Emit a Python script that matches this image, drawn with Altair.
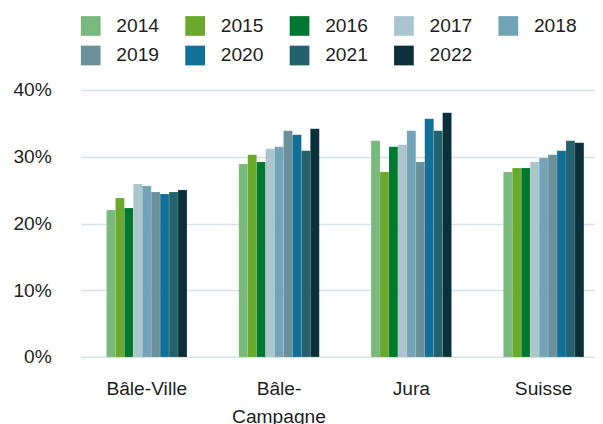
import altair as alt
import pandas as pd

regions = ["Bâle-Ville", "Bâle-Campagne", "Jura", "Suisse"]
years = ["2014", "2015", "2016", "2017", "2018", "2019", "2020", "2021", "2022"]

bale_ville = [22.0, 23.8, 22.3, 25.9, 25.6, 24.7, 24.4, 24.7, 25.0]
bale_campagne = [28.9, 30.3, 29.2, 31.2, 31.5, 33.9, 33.3, 30.9, 34.2]
jura = [32.4, 27.7, 31.5, 31.8, 33.9, 29.2, 35.7, 33.9, 36.6]
suisse = [27.7, 28.3, 28.3, 29.2, 29.8, 30.3, 30.9, 32.4, 32.1]

colors = ["#78b97d", "#6aa92c", "#00782f", "#abc5cd", "#73a3b6",
          "#6a9099", "#116f99", "#23626d", "#0a303a"]

series = [bale_ville, bale_campagne, jura, suisse]
rows = []
for reg, vals in zip(regions, series):
    for yr, v in zip(years, vals):
        rows.append({"region": reg, "year": yr, "value": v / 100})
df = pd.DataFrame(rows)

grid_color = "#d3e1e8"
text_color = "#1e1e1e"
font = "Liberation Sans"

chart = alt.Chart(df).mark_bar(stroke="white", strokeWidth=0.3, strokeOpacity=0.4).encode(
    x=alt.X("region:N", sort=regions, title=None,
            scale=alt.Scale(paddingInner=0.3917, paddingOuter=0.1389, align=0.697),
            axis=alt.Axis(labelAngle=0, labelFontSize=19.5, labelFont=font, labelColor=text_color,
                          ticks=False, labelPadding=23, domainColor=grid_color, domainWidth=1.5,
                          labelLineHeight=29, grid=False,
                          labelExpr="datum.label == 'Bâle-Campagne' ? ['Bâle-', 'Campagne'] : datum.label")),
    xOffset=alt.XOffset("year:N", sort=years, scale=alt.Scale(paddingInner=0, paddingOuter=0)),
    y=alt.Y("value:Q", title=None,
            scale=alt.Scale(domain=[0, 0.4], nice=False),
            axis=alt.Axis(format=".0%", values=[0, 0.1, 0.2, 0.3, 0.4], domain=False, ticks=False,
                          labelPadding=30, labelFontSize=19.5, labelFont=font, labelColor=text_color,
                          gridColor=grid_color, gridWidth=1.5)),
    color=alt.Color("year:N", sort=years,
                    scale=alt.Scale(domain=years, range=colors),
                    legend=alt.Legend(title=None, orient="none", legendX=0, legendY=-75,
                                      direction="horizontal",
                                      columns=5, symbolType="square", symbolSize=400,
                                      symbolStrokeWidth=0, labelFontSize=19.5, labelFont=font,
                                      labelColor=text_color, labelOffset=16, columnPadding=26,
                                      rowPadding=10)),
).properties(
    width=522,
    height=271,
    padding={"left": 4, "top": 5, "right": 0, "bottom": 0},
).configure_view(strokeWidth=0)

chart.save("out.html", embed_options={"renderer": "svg", "actions": False})
